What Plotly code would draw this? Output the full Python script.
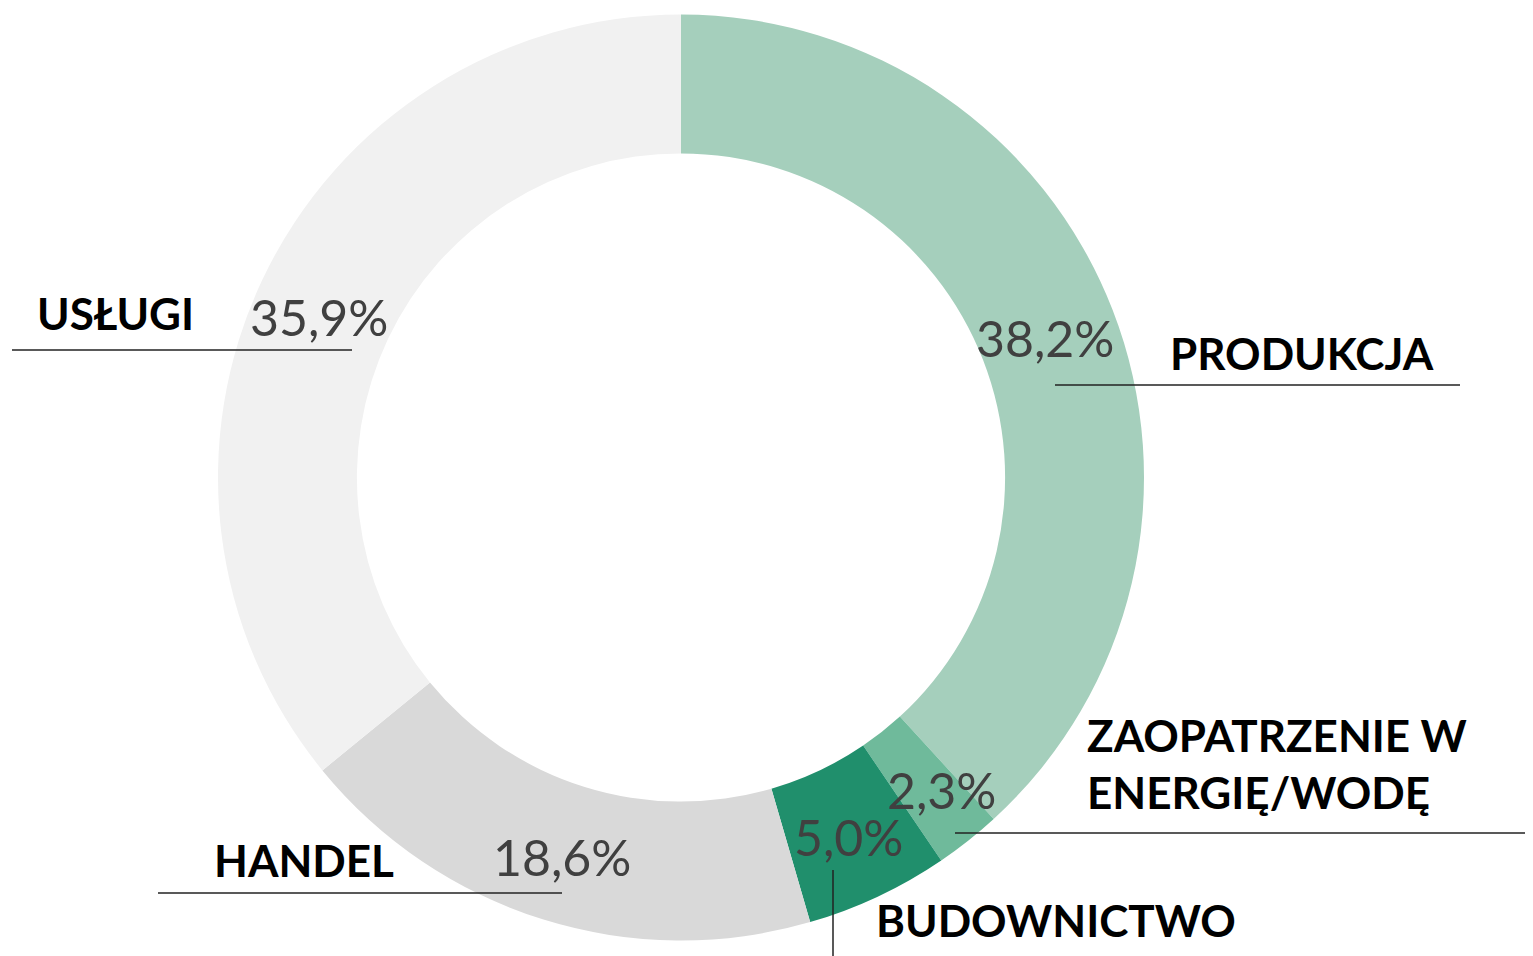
import plotly.graph_objects as go

W, H = 1533, 956
OFF = 8  # page body margin

# data
sectors = ["PRODUKCJA", "ZAOPATRZENIE W<br>ENERGIĘ/WODĘ", "BUDOWNICTWO", "HANDEL", "USŁUGI"]
shares = [38.2, 2.3, 5.0, 18.6, 35.9]
colors = ["#a5cfbc", "#6fba9b", "#208f6c", "#d9d9d9", "#f1f1f1"]

# label placement in screen pixels (x, y, anchor)
name_pos = [(1168, 353, "left"), (1085, 763, "left"), (874, 920, "left"), (396, 860, "right"), (196, 313, "right")]
pct_pos = [(1116, 338, "right"), (998, 790, "right"), (905, 837, "right"), (633, 857, "right"), (390, 317, "right")]
# underline segments (x0, x1, y)
rules = [(1055, 1460, 385), (955, 1540, 833), None, (158, 562, 893), (12, 352, 350)]


def px(x):
    return (x - OFF) / W


def py(y):
    return 1 - (y - OFF) / H


fig = go.Figure(go.Pie(
    values=shares,
    labels=sectors,
    marker=dict(colors=colors, line=dict(width=0)),
    hole=0.70,
    sort=False,
    direction="clockwise",
    rotation=0,
    textinfo="none",
    hoverinfo="skip",
    showlegend=False,
    domain=dict(x=[px(218), px(1144)], y=[py(941), py(14)]),
))

for name, val, (nx, ny, na), (vx, vy, va) in zip(sectors, shares, name_pos, pct_pos):
    fig.add_annotation(x=px(nx), y=py(ny), xref="paper", yref="paper", text=name,
                       showarrow=False, xanchor=na, yanchor="middle", align="left",
                       font=dict(family="Lato", size=44, color="#000000", weight="bold"))
    fig.add_annotation(x=px(vx), y=py(vy), xref="paper", yref="paper",
                       text=f"{val:.1f}%".replace(".", ","),
                       showarrow=False, xanchor=va, yanchor="middle",
                       font=dict(family="Lato", size=50, color="#404040", weight="normal"))

for r in rules:
    if r is None:
        continue
    x0, x1, y = r
    fig.add_shape(type="line", xref="paper", yref="paper", x0=px(x0), x1=px(x1), y0=py(y), y1=py(y),
                  line=dict(color="#222222", width=1.5))

# vertical tick under BUDOWNICTWO
fig.add_shape(type="line", xref="paper", yref="paper", x0=px(833), x1=px(833), y0=py(870), y1=py(965),
              line=dict(color="#222222", width=1.5))

fig.update_layout(
    width=W, height=H,
    margin=dict(l=0, r=0, t=0, b=0),
    paper_bgcolor="white",
    plot_bgcolor="white",
)

fig.write_html("out.html")
